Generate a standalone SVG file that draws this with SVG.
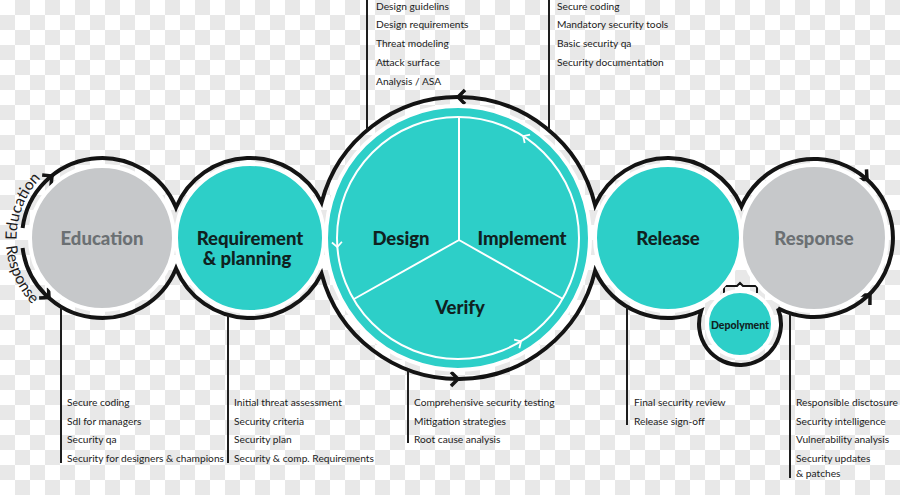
<svg xmlns="http://www.w3.org/2000/svg" xmlns:xlink="http://www.w3.org/1999/xlink" width="900" height="495" viewBox="0 0 900 495">
<defs>
<pattern id="chk" patternUnits="userSpaceOnUse" width="30" height="30">
<rect width="30" height="30" fill="#ffffff"/>
<rect x="15" y="0" width="15" height="15" fill="#e8e8e8"/>
<rect x="0" y="15" width="15" height="15" fill="#e8e8e8"/>
</pattern>
<path id="chev" d="M-7,-7 L0,0 L-7,7" fill="none" stroke="#141414" stroke-width="3.5" stroke-linejoin="miter"/>
<path id="wchev" d="M-5,-5 L0,0 L-5,5" fill="none" stroke="#ffffff" stroke-width="1.8"/>
<path id="eduArc" d="M16.7,240 A86,86 0 0 1 102,152"/>
<path id="resArc" d="M6,246 A96,96 0 0 0 102,334"/>
</defs>
<style>
.ol{fill:none;stroke:#141414;stroke-width:4}
.vl{stroke:#1e1e1e;stroke-width:2}
.lst{font-family:Lato,"Liberation Sans",sans-serif;font-size:10.2px;fill:#1b1b1b}
.lbl{font-family:Lato,"Liberation Sans",sans-serif;font-weight:900;font-size:18.5px;text-anchor:middle;fill:#10221f}
.gtx{fill:#6b7073}
.teal{fill:#2dcfc8;stroke:#ffffff;stroke-width:4}
.gray{fill:#c6c8ca;stroke:#ffffff;stroke-width:4}
.side{font-family:Lato,"Liberation Sans",sans-serif;font-size:15.5px;fill:#1b1b1b}
</style>
<rect width="900" height="495" fill="url(#chk)"/>

<g id="connectors">
<path class="ol" d="M22.6,228 A80,80 0 0 1 176,207.6 A80,80 0 0 1 321.6,202.3 A141,141 0 0 1 595.1,205.1 A80,80 0 0 1 741.5,206.5 A79,79 0 1 1 777.9,308.3"/>
<path class="ol" d="M22.6,248 A80,80 0 0 0 176,268.4 A80,80 0 0 0 321.6,273.7 A141,141 0 0 0 595.1,270.9 A80,80 0 0 0 701.2,310.8 A41,41 0 1 0 777.9,308.3"/>
<use href="#chev" transform="translate(52,176) rotate(-39)"/>
<use href="#chev" transform="translate(49,297.5) rotate(42)"/>
<use href="#chev" transform="translate(458,97) rotate(180)"/>
<use href="#chev" transform="translate(458,379)"/>
<use href="#chev" transform="translate(867,179.3) rotate(42)"/>
<use href="#chev" transform="translate(870,295) rotate(-44.5)"/>
<line class="vl" x1="367" y1="0" x2="367" y2="130"/>
<line class="vl" x1="549" y1="0" x2="549" y2="130"/>
<line class="vl" x1="408" y1="370" x2="408" y2="443"/>
<line class="vl" x1="61" y1="307" x2="61" y2="463"/>
<line class="vl" x1="228" y1="315" x2="228" y2="463"/>
<line class="vl" x1="627" y1="307" x2="627" y2="425"/>
<line class="vl" x1="790" y1="313" x2="790" y2="478"/>
<path d="M724,293 L724,288 Q724,286 726,286 L737,286 L740,283 L743,286 L755,286 Q757,286 757,288 L757,293" fill="none" stroke="#141414" stroke-width="2"/>
<text class="side"><textPath href="#eduArc">Education</textPath></text>
<text class="side"><textPath href="#resArc">Response</textPath></text>
</g>

<g id="node-education">
<circle class="gray" cx="102" cy="238" r="72"/>
<text class="lbl gtx" x="102" y="245">Education</text>
</g>
<g id="node-requirement">
<circle class="teal" cx="250" cy="238" r="74"/>
<text class="lbl" x="250" y="245">Requirement</text>
<text class="lbl" x="247" y="265">&amp; planning</text>
</g>
<g id="node-design-cycle">
<circle class="teal" cx="458" cy="238" r="132"/>
<circle cx="458" cy="238" r="121" fill="none" stroke="#ffffff" stroke-width="2"/>
<path d="M459,240 L459,117 M459,240 L354,299 M459,240 L563,299" fill="none" stroke="#ffffff" stroke-width="2"/>
<use href="#wchev" transform="translate(523.2,136.1) rotate(-147.4)"/>
<use href="#wchev" transform="translate(337.3,247.1) rotate(85.7)"/>
<use href="#wchev" transform="translate(521,341.3) rotate(-31.4)"/>
<g id="node-design"><text class="lbl" x="401" y="245">Design</text></g>
<g id="node-implement"><text class="lbl" x="522" y="245">Implement</text></g>
<g id="node-verify"><text class="lbl" x="460" y="314">Verify</text></g>
</g>
<g id="node-release">
<circle class="teal" cx="668" cy="238" r="73"/>
<text class="lbl" x="668" y="245">Release</text>
</g>
<g id="node-response">
<circle class="gray" cx="814" cy="238" r="73"/>
<text class="lbl gtx" x="814" y="245">Response</text>
</g>
<g id="node-deployment">
<circle class="teal" cx="740" cy="324" r="33"/>
<text class="lbl" x="740" y="329" style="font-size:10.5px">Depolyment</text>
</g>

<g id="notes-design">
<text class="lst" x="376" y="9.5">Design guidelins</text>
<text class="lst" x="376" y="28">Design  requirements</text>
<text class="lst" x="376" y="47">Threat modeling</text>
<text class="lst" x="376" y="65.5">Attack surface</text>
<text class="lst" x="376" y="84.5">Analysis / ASA</text>
</g>
<g id="notes-implement">
<text class="lst" x="557" y="9.5">Secure coding</text>
<text class="lst" x="557" y="28">Mandatory security tools</text>
<text class="lst" x="557" y="47">Basic security qa</text>
<text class="lst" x="557" y="65.5">Security documentation</text>
</g>
<g id="notes-education">
<text class="lst" x="67" y="405.5">Secure coding</text>
<text class="lst" x="67" y="424.5">Sdl for managers</text>
<text class="lst" x="67" y="442.5">Security qa</text>
<text class="lst" x="67" y="461.5">Security for designers &amp; champions</text>
</g>
<g id="notes-requirement">
<text class="lst" x="234" y="405.5">Initial threat assessment</text>
<text class="lst" x="234" y="424.5">Security criteria</text>
<text class="lst" x="234" y="442.5">Security plan</text>
<text class="lst" x="234" y="461.5">Security &amp; comp. Requirements</text>
</g>
<g id="notes-verify">
<text class="lst" x="414" y="405.5">Comprehensive security testing</text>
<text class="lst" x="414" y="424.5">Mitigation strategies</text>
<text class="lst" x="414" y="442.5">Root cause analysis</text>
</g>
<g id="notes-release">
<text class="lst" x="634" y="405.5">Final security review</text>
<text class="lst" x="634" y="424.5">Release sign-off</text>
</g>
<g id="notes-response">
<text class="lst" x="796" y="405.5">Responsible disctosure</text>
<text class="lst" x="796" y="424.5">Security intelligence</text>
<text class="lst" x="796" y="442.5">Vulnerability analysis</text>
<text class="lst" x="796" y="461.5">Security updates</text>
<text class="lst" x="796" y="476.5">&amp; patches</text>
</g>
</svg>
